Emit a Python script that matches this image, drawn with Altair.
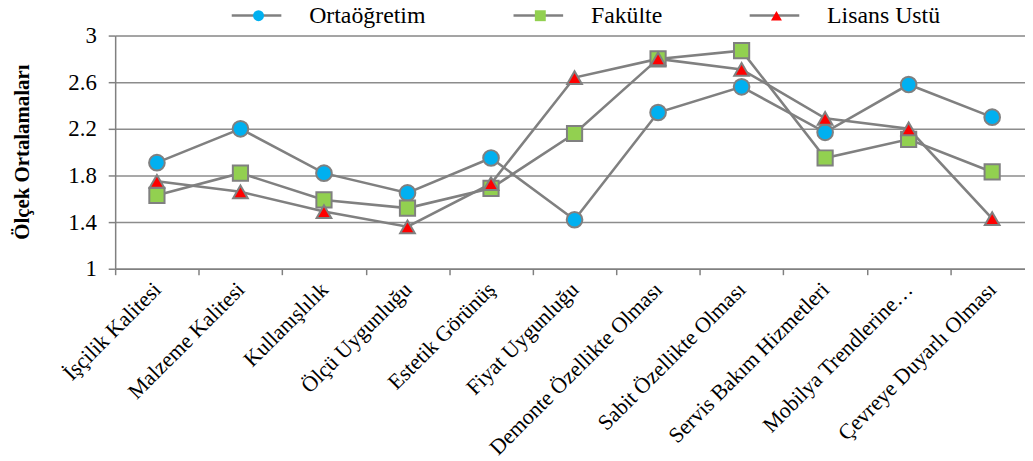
import altair as alt
import pandas as pd

categories = [
    "İşçilik Kalitesi", "Malzeme Kalitesi", "Kullanışlılık", "Ölçü Uygunluğu",
    "Estetik Görünüş", "Fiyat Uygunluğu", "Demonte Özellikte Olması",
    "Sabit Özellikte Olması", "Servis Bakım Hizmetleri", "Mobilya Trendlerine…",
    "Çevreye Duyarlı Olması",
]
series_names = ["Ortaöğretim", "Fakülte", "Lisans Üstü"]
ortaogretim = [1.91, 2.20, 1.82, 1.65, 1.95, 1.42, 2.34, 2.56, 2.17, 2.58, 2.30]
fakulte = [1.63, 1.82, 1.59, 1.52, 1.69, 2.16, 2.80, 2.87, 1.95, 2.11, 1.83]
lisans_ustu = [1.75, 1.66, 1.49, 1.36, 1.73, 2.64, 2.80, 2.71, 2.29, 2.20, 1.43]
y_ticks = [1, 1.4, 1.8, 2.2, 2.6, 3]

fills = ["#00B0F0", "#92D050", "#FF0000"]
point_shapes = ["circle", "square", "triangle-up"]
point_sizes = [250, 220, 300]
GRAY = "#808080"
FONT = "Liberation Serif"

rows = []
for name, vals in zip(series_names, [ortaogretim, fakulte, lisans_ustu]):
    for c, v in zip(categories, vals):
        rows.append({"category": c, "series": name, "series_l": name, "series_s": name, "value": v})
df = pd.DataFrame(rows)

x_enc = alt.X(
    "category:N",
    sort=categories,
    bandPosition=0.5,
    scale=alt.Scale(type="band", paddingInner=0, paddingOuter=0, range=[0, 926]),
    axis=alt.Axis(
        title=None, tickBand="extent", labelAngle=315, labelAlign="right",
        labelBaseline="middle", labelPadding=11, tickSize=6, grid=False,
        labelFont=FONT, labelFontSize=22, labelColor="#000000", labelLimit=600,
        domainColor=GRAY, tickColor=GRAY, domainWidth=1.5, tickWidth=1.5,
    ),
)
y_enc = alt.Y(
    "value:Q",
    scale=alt.Scale(domain=[1, 3], nice=False, zero=False),
    axis=alt.Axis(
        values=y_ticks, format="~g", grid=True, gridColor="#8c8c8c", gridWidth=1.5,
        tickSize=7, tickColor=GRAY, tickWidth=1.5, domainColor=GRAY, domainWidth=1.5,
        labelFont=FONT, labelFontSize=23, labelColor="#000000", labelPadding=12,
        title="Ölçek Ortalamaları", titleFont=FONT, titleFontSize=21,
        titleFontWeight="bold", titleColor="#000000", titleAngle=270,
        titleX=-93, titleY=117, titleAlign="center", titleBaseline="middle",
    ),
)

LEG_X = 132.5
LEG_Y = -32
COL_PAD = 103

point_legend = alt.Legend(
    title=None, orient="none", legendX=LEG_X, legendY=LEG_Y, direction="horizontal",
    labelFont=FONT, labelFontSize=24, labelColor="#000000", labelOffset=39,
    columnPadding=COL_PAD, symbolSize=121, symbolStrokeColor=GRAY, symbolStrokeWidth=2,
    symbolOpacity=1, labelLimit=400, zindex=2,
)
line_legend = alt.Legend(
    title=None, orient="none", legendX=116, legendY=-47, direction="horizontal",
    labelFont=FONT, labelFontSize=24, labelColor="#000000", labelOpacity=0, labelOffset=0,
    columnPadding=109, symbolType="stroke", symbolSize=2500, symbolStrokeWidth=2.5,
    symbolOpacity=1, labelLimit=400, zindex=1,
)

lines = alt.Chart(df).mark_line(strokeWidth=2.6).encode(
    x=x_enc, y=y_enc,
    stroke=alt.Stroke("series_l:N", sort=series_names,
                      scale=alt.Scale(range=[GRAY, GRAY, GRAY]), legend=line_legend),
)

points = alt.Chart(df).mark_point(filled=True, stroke=GRAY, strokeWidth=2, opacity=1).encode(
    x=x_enc, y=y_enc,
    shape=alt.Shape("series:N", scale=alt.Scale(domain=series_names, range=point_shapes), legend=point_legend),
    fill=alt.Fill("series:N", scale=alt.Scale(domain=series_names, range=fills), legend=point_legend),
    size=alt.Size("series_s:N", sort=series_names, scale=alt.Scale(range=point_sizes), legend=None),
)

chart = (
    alt.layer(lines, points)
    .properties(
        width=917, height=235,
        autosize=alt.AutoSizeParams(type="none"),
        padding={"left": 108, "top": 26, "right": 0, "bottom": 192},
    )
    .configure_view(stroke=None)
    .configure_legend(labelFont=FONT, labelFontSize=24, labelColor="#000000",
                      symbolStrokeColor=GRAY, symbolStrokeWidth=2)
    .configure(background="white")
)

chart.save("out.html", embed_options={"renderer": "svg", "actions": False})
